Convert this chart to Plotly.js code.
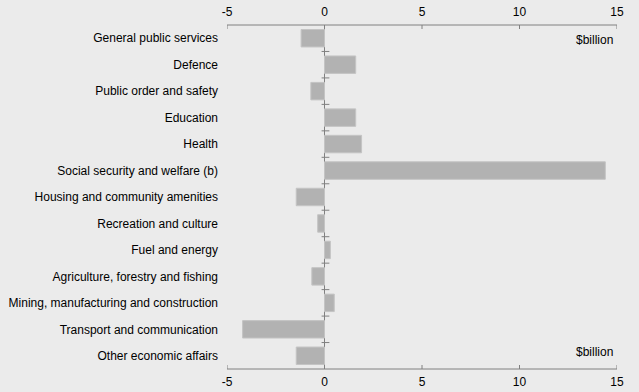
<!DOCTYPE html>
<html>
<head>
<meta charset="utf-8">
<script src="https://cdn.plot.ly/plotly-3.0.1.min.js"></script>
<style>html,body{margin:0;padding:0;background:#ebebeb;}#chart{width:639px;height:392px;}</style>
</head>
<body>
<div id="chart"></div>
<script>
const categories = [
  "General public services",
  "Defence",
  "Public order and safety",
  "Education",
  "Health",
  "Social security and welfare (b)",
  "Housing and community amenities",
  "Recreation and culture",
  "Fuel and energy",
  "Agriculture, forestry and fishing",
  "Mining, manufacturing and construction",
  "Transport and communication",
  "Other economic affairs"
];
const values = [-1.2, 1.6, -0.7, 1.6, 1.9, 14.4, -1.45, -0.35, 0.3, -0.65, 0.5, -4.2, -1.45];
const xTicks = [-5, 0, 5, 10, 15];
const unitLabel = "$billion";

const font = {family: "Arial, 'Liberation Sans', sans-serif", size: 12, color: "#000"};
const axisColor = "#808080";

const bars = {
  type: "bar",
  orientation: "h",
  x: values,
  y: categories,
  width: 0.66,
  marker: {color: "#b2b2b2", line: {color: "#c4c4c4", width: 1}},
  hoverinfo: "skip",
  showlegend: false
};
const ghost = {
  type: "bar",
  orientation: "h",
  x: values,
  y: categories,
  xaxis: "x2",
  marker: {color: "rgba(0,0,0,0)"},
  hoverinfo: "skip",
  showlegend: false
};

const shapes = [];
// category boundary ticks on the zero line
for (let i = 0; i < categories.length - 1; i++) {
  shapes.push({
    type: "line", xref: "x", yref: "y",
    x0: -0.15, x1: 0.25, y0: i + 0.5, y1: i + 0.5,
    line: {color: axisColor, width: 1}
  });
}
// top and bottom axis lines
shapes.push({type: "line", xref: "paper", yref: "paper", x0: 0, x1: 1, y0: 1, y1: 1,
  line: {color: axisColor, width: 1}});
shapes.push({type: "line", xref: "paper", yref: "paper", x0: 0, x1: 1, y0: 0, y1: 0,
  line: {color: axisColor, width: 1}});
// inside tick marks on both axes
xTicks.forEach(function (t) {
  shapes.push({type: "line", xref: "x", yref: "paper", x0: t, x1: t, y0: 1, y1: 1 - 4 / 344,
    line: {color: axisColor, width: 1}});
  shapes.push({type: "line", xref: "x", yref: "paper", x0: t, x1: t, y0: 0, y1: 4 / 344,
    line: {color: axisColor, width: 1}});
});

const axisCommon = {
  range: [-5, 15],
  tickvals: xTicks,
  ticktext: xTicks.map(String),
  showgrid: false,
  showline: false,
  ticks: "",
  tickfont: font,
  fixedrange: true
};

const layout = {
  width: 639,
  height: 392,
  margin: {l: 227, r: 22, t: 25, b: 23},
  paper_bgcolor: "#ebebeb",
  plot_bgcolor: "#ebebeb",
  bargap: 0.34,
  xaxis: Object.assign({}, axisCommon, {
    side: "bottom",
    ticklabelstandoff: 4,
    zeroline: true,
    zerolinecolor: axisColor,
    zerolinewidth: 1
  }),
  xaxis2: Object.assign({}, axisCommon, {
    side: "top",
    overlaying: "x",
    ticklabelstandoff: 6,
    zeroline: false
  }),
  yaxis: {
    type: "category",
    autorange: "reversed",
    showgrid: false,
    showline: false,
    zeroline: false,
    ticks: "",
    tickfont: font,
    ticklabelstandoff: 8,
    fixedrange: true
  },
  shapes: shapes,
  annotations: [
    {xref: "paper", yref: "paper", x: 0.995, y: 0.955, xanchor: "right", yanchor: "middle",
     text: unitLabel, showarrow: false, font: font},
    {xref: "paper", yref: "paper", x: 0.995, y: 0.05, xanchor: "right", yanchor: "middle",
     text: unitLabel, showarrow: false, font: font}
  ]
};

Plotly.newPlot("chart", [bars, ghost], layout, {displayModeBar: false, staticPlot: true});
</script>
</body>
</html>
